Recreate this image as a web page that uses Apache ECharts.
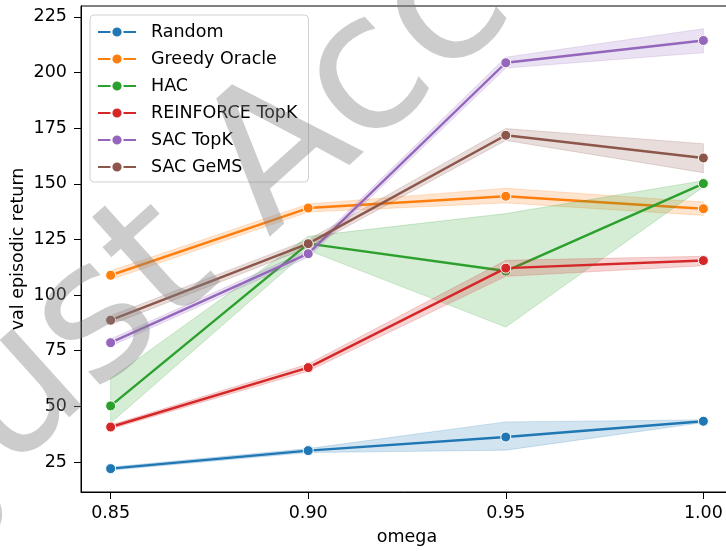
<!DOCTYPE html>
<html>
<head>
<meta charset="utf-8">
<script src="https://cdn.jsdelivr.net/npm/echarts@6/dist/echarts.min.js"></script>
<style>html,body{margin:0;padding:0;background:#fff;}#c{width:726px;height:551px;}</style>
</head>
<body>
<div id="c"></div>
<script>
const omega = [0.85, 0.90, 0.95, 1.00];
const xTicks = [0.85, 0.90, 0.95, 1.00];
const yTicks = [25, 50, 75, 100, 125, 150, 175, 200, 225];
const names = ['Random', 'Greedy Oracle', 'HAC', 'REINFORCE TopK', 'SAC TopK', 'SAC GeMS'];
const colors = ['#1f77b4', '#ff7f0e', '#2ca02c', '#d62728', '#9467bd', '#8c564b'];

const randomMean = [22.0, 30.1, 36.2, 43.3];
const randomLo   = [21.3, 29.2, 30.3, 42.7];
const randomHi   = [22.7, 31.0, 43.0, 43.9];
const greedyMean = [108.9, 139.1, 144.4, 138.8];
const greedyLo   = [106.9, 137.3, 141.4, 135.8];
const greedyHi   = [110.9, 140.9, 148.0, 141.8];
const hacMean    = [50.2, 123.1, 110.8, 150.1];
const hacLo      = [42.5, 120.1, 85.6, 148.6];
const hacHi      = [62.5, 126.4, 136.6, 151.4];
const reinMean   = [40.7, 67.4, 112.1, 115.5];
const reinLo     = [39.8, 65.8, 108.4, 113.2];
const reinHi     = [41.6, 69.0, 115.6, 117.4];
const sacTopKMean = [78.6, 118.6, 204.4, 214.4];
const sacTopKLo   = [77.0, 117.0, 202.0, 208.9];
const sacTopKHi   = [80.2, 120.2, 206.9, 219.7];
const sacGemsMean = [88.7, 123.1, 171.8, 161.6];
const sacGemsLo   = [86.7, 121.3, 169.5, 155.0];
const sacGemsHi   = [90.7, 124.9, 174.8, 168.0];

const means = [randomMean, greedyMean, hacMean, reinMean, sacTopKMean, sacGemsMean];
const los = [randomLo, greedyLo, hacLo, reinLo, sacTopKLo, sacGemsLo];
const his = [randomHi, greedyHi, hacHi, reinHi, sacTopKHi, sacGemsHi];

function hexA(hex, a) {
  const r = parseInt(hex.slice(1,3),16), g = parseInt(hex.slice(3,5),16), b = parseInt(hex.slice(5,7),16);
  return 'rgba(' + r + ',' + g + ',' + b + ',' + a + ')';
}

const FONT = 'DejaVu Sans';
const FS = 17.5;
const series = [];
names.forEach(function (name, i) {
  const lo = los[i], hi = his[i];
  series.push({
    type: 'custom',
    silent: true,
    z: 2 + i * 2,
    data: [[omega[0], lo[0]]],
    renderItem: function (params, api) {
      const pts = [];
      for (let k = 0; k < omega.length; k++) pts.push(api.coord([omega[k], hi[k]]));
      for (let k = omega.length - 1; k >= 0; k--) pts.push(api.coord([omega[k], lo[k]]));
      return {
        type: 'polygon',
        shape: { points: pts },
        style: { fill: hexA(colors[i], 0.2), stroke: hexA(colors[i], 0.2), lineWidth: 1 }
      };
    }
  });
  series.push({
    type: 'line',
    name: name,
    z: 3 + i * 2,
    data: omega.map(function (x, k) { return [x, means[i][k]]; }),
    symbol: 'circle',
    symbolSize: 10,
    showSymbol: true,
    lineStyle: { color: colors[i], width: 2.4 },
    itemStyle: { color: colors[i], borderColor: '#fff', borderWidth: 1 },
    emphasis: { disabled: true },
    animation: false
  });
});

const chart = echarts.init(document.getElementById('c'), null, { renderer: 'canvas' });
chart.setOption({
  animation: false,
  backgroundColor: '#fff',
  textStyle: { fontFamily: FONT },
  grid: { left: 81, top: 6, right: -7, bottom: 59, containLabel: false, outerBoundsMode: 'none',
    show: true, borderColor: '#000', borderWidth: 1, backgroundColor: 'transparent' },
  xAxis: {
    type: 'value', min: 0.8425, max: 1.0075,
    name: 'omega', nameLocation: 'middle', nameGap: 36, nameMoveOverlap: false,
    nameTextStyle: { fontSize: FS, color: '#000', fontFamily: FONT },
    axisLine: { show: true, lineStyle: { color: '#000', width: 1 } },
    axisTick: { show: true, length: 7, customValues: xTicks, lineStyle: { color: '#000' } },
    axisLabel: { customValues: xTicks, fontSize: FS, color: '#000', margin: 12, fontFamily: FONT,
      formatter: function (v) { return Number(v).toFixed(2); } },
    splitLine: { show: false }
  },
  yAxis: {
    type: 'value', min: 11.5, max: 229.9,
    name: 'val episodic return', nameLocation: 'middle', nameGap: 54, nameRotate: 90, nameMoveOverlap: false,
    nameTextStyle: { fontSize: FS, color: '#000', fontFamily: FONT },
    axisLine: { show: true, lineStyle: { color: '#000', width: 1 } },
    axisTick: { show: true, length: 7, customValues: yTicks, lineStyle: { color: '#000' } },
    axisLabel: { customValues: yTicks, fontSize: FS, color: '#000', margin: 14, fontFamily: FONT },
    splitLine: { show: false }
  },
  legend: {
    orient: 'vertical', left: 90, top: 15,
    data: names,
    itemWidth: 38, itemHeight: 14, itemGap: 9,
    padding: [8, 11, 6, 7],
    backgroundColor: 'rgba(255,255,255,0.8)', borderColor: '#d0d0d0', borderWidth: 1, borderRadius: 4,
    textStyle: { fontSize: FS, lineHeight: 14, color: '#000', fontFamily: FONT, padding: [0, 0, 0, 10] },
    selectedMode: false
  },
  graphic: [{
    type: 'text', z: 100, silent: true,
    x: -133, y: 405, rotation: 42 * Math.PI / 180,
    style: { text: 'Just Accepted', font: '190px "DejaVu Sans"', fill: 'rgba(128,128,128,0.4)', textVerticalAlign: 'alphabetic', textAlign: 'left' }
  }],
  series: series
});
</script>
</body>
</html>
